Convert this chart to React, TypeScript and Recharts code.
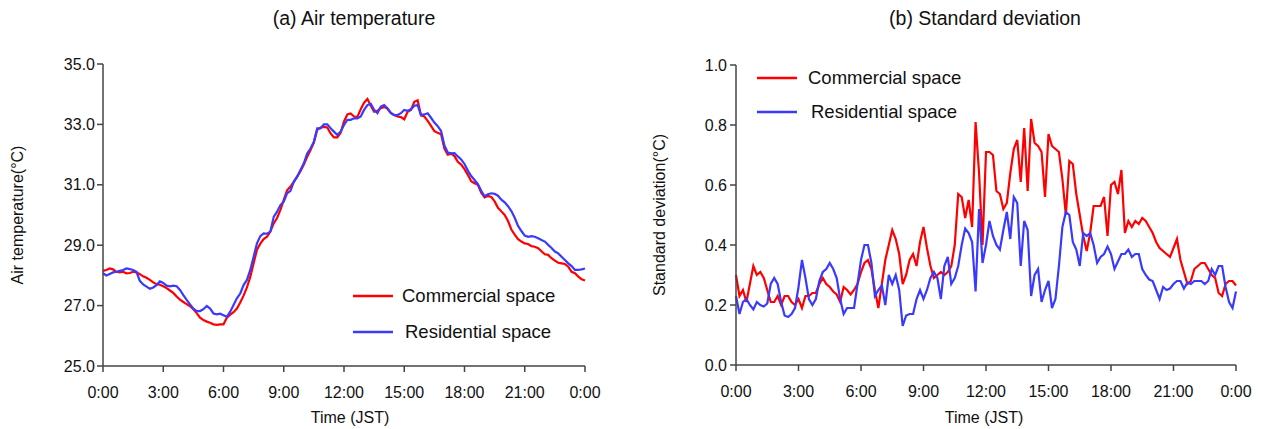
import React from "react";
import { LineChart, Line, XAxis, YAxis } from "recharts";

// 10-minute readings, 0:00 -> 0:00 next day (145 points)
const timeLabels = ["0:00", "3:00", "6:00", "9:00", "12:00", "15:00", "18:00", "21:00", "0:00"];
const timeTicks = timeLabels.map((_, k) => k * 18);

const tempTicks = [25, 27, 29, 31, 33, 35];
const sdTicks = [0, 0.2, 0.4, 0.6, 0.8, 1.0];

const seriesNames = ["Commercial space", "Residential space"];
const seriesColors = ["#ff0000", "#3a3aff"];

const tempCommercial = [
  28.15, 28.18, 28.23, 28.2, 28.12, 28.1, 28.12, 28.07, 28.08, 28.12, 28.1, 28.04,
  27.97, 27.92, 27.85, 27.77, 27.71, 27.69, 27.64, 27.58, 27.5, 27.42, 27.3, 27.2,
  27.12, 27.05, 26.98, 26.88, 26.75, 26.6, 26.52, 26.47, 26.43, 26.38, 26.36, 26.38,
  26.38, 26.6, 26.7, 26.78, 26.9, 27.1, 27.33, 27.6, 27.95, 28.4, 28.85, 29.05,
  29.2, 29.28, 29.45, 29.72, 29.9, 30.17, 30.5, 30.82, 30.94, 31.1, 31.27, 31.45,
  31.67, 31.93, 32.15, 32.4, 32.82, 32.9, 32.92, 32.9, 32.7, 32.57, 32.57, 32.72,
  33.1, 33.33, 33.36, 33.26, 33.25, 33.5, 33.72, 33.84, 33.62, 33.42, 33.45, 33.54,
  33.58, 33.52, 33.38, 33.31, 33.26, 33.24, 33.17, 33.42, 33.48, 33.75, 33.8, 33.3,
  33.26, 33.12, 32.95, 32.78, 32.72, 32.67, 32.2, 32.0, 32.03, 31.95, 31.76, 31.67,
  31.52, 31.33, 31.12, 31.05, 31.0, 30.74, 30.58, 30.63, 30.6, 30.45, 30.24, 30.12,
  30.0, 29.8, 29.52, 29.35, 29.2, 29.12, 29.06, 29.04, 28.97, 28.95, 28.9, 28.8,
  28.7, 28.68, 28.57, 28.49, 28.42, 28.4, 28.38, 28.29, 28.12, 28.07, 27.96, 27.87,
  27.83,
];

const tempResidential = [
  28.07, 28.0, 28.05, 28.1, 28.12, 28.15, 28.18, 28.23, 28.21, 28.18, 28.12, 27.82,
  27.7, 27.63, 27.56, 27.6, 27.68, 27.8, 27.75, 27.66, 27.64, 27.66, 27.64, 27.52,
  27.35, 27.19, 27.04, 26.9, 26.82, 26.82, 26.88, 26.99, 26.9, 26.74, 26.71, 26.73,
  26.68, 26.63, 26.8, 27.02, 27.24, 27.4, 27.68, 27.85, 28.18, 28.62, 29.06, 29.3,
  29.39, 29.38, 29.45, 29.94, 30.11, 30.33, 30.44, 30.72, 30.8, 31.1, 31.27, 31.49,
  31.71, 32.04, 32.2, 32.43, 32.87, 32.87, 33.0, 33.0, 32.87, 32.76, 32.65, 32.76,
  32.98, 33.15, 33.15, 33.2, 33.2, 33.26, 33.48, 33.64, 33.68, 33.48, 33.37, 33.59,
  33.64, 33.53, 33.37, 33.31, 33.31, 33.37, 33.48, 33.45, 33.5, 33.62, 33.64, 33.31,
  33.33, 33.37, 33.22, 33.06, 32.94, 32.78, 32.3, 32.07, 32.04, 32.05, 31.94, 31.84,
  31.69, 31.47, 31.29, 31.16, 31.02, 30.8, 30.62, 30.69, 30.72, 30.7, 30.64, 30.51,
  30.42, 30.29, 30.13, 29.91, 29.64, 29.47, 29.32, 29.28, 29.3, 29.28, 29.23, 29.17,
  29.12, 29.01, 28.91, 28.79, 28.73, 28.62, 28.51, 28.4, 28.31, 28.18, 28.18, 28.2,
  28.23,
];

const sdCommercial = [
  0.3, 0.23, 0.25, 0.21, 0.27, 0.33, 0.3, 0.31, 0.29, 0.25, 0.21, 0.21,
  0.23, 0.2, 0.23, 0.23, 0.21, 0.2, 0.22, 0.19, 0.23, 0.23, 0.24, 0.24,
  0.27, 0.29, 0.27, 0.26, 0.245, 0.235, 0.21, 0.26, 0.25, 0.235, 0.25, 0.27,
  0.31, 0.34, 0.35, 0.32, 0.25, 0.19, 0.27, 0.35, 0.4, 0.45, 0.42, 0.37,
  0.27, 0.3, 0.35, 0.37, 0.33, 0.41, 0.46, 0.39, 0.33, 0.29, 0.3, 0.31,
  0.3, 0.31, 0.33, 0.4, 0.57, 0.56, 0.49, 0.55, 0.46, 0.81, 0.64, 0.4,
  0.71, 0.71, 0.7, 0.58, 0.57, 0.52, 0.54, 0.64, 0.72, 0.75, 0.61, 0.79,
  0.58, 0.82, 0.74, 0.73, 0.71, 0.56, 0.77, 0.73, 0.72, 0.71, 0.62, 0.5,
  0.68, 0.67, 0.57, 0.5, 0.43, 0.38, 0.44, 0.53, 0.53, 0.53, 0.56, 0.43,
  0.6, 0.61, 0.57, 0.65, 0.44, 0.48, 0.46, 0.48, 0.47, 0.49, 0.48, 0.46,
  0.44, 0.41, 0.39, 0.38, 0.37, 0.36, 0.39, 0.42, 0.35, 0.31, 0.27, 0.28,
  0.32, 0.33, 0.34, 0.34, 0.32, 0.3, 0.29, 0.24, 0.23, 0.27, 0.28, 0.28,
  0.265,
];

const sdResidential = [
  0.23, 0.17, 0.21, 0.22, 0.2, 0.185, 0.21, 0.2, 0.195, 0.205, 0.27, 0.29,
  0.27, 0.21, 0.165, 0.16, 0.17, 0.19, 0.26, 0.35, 0.29, 0.22, 0.2, 0.22,
  0.28, 0.31, 0.32, 0.34, 0.32, 0.29, 0.22, 0.17, 0.19, 0.19, 0.19, 0.27,
  0.35, 0.4, 0.4, 0.34, 0.23, 0.25, 0.265, 0.2, 0.3, 0.27, 0.3, 0.25,
  0.13, 0.165, 0.17, 0.17, 0.22, 0.25, 0.22, 0.25, 0.29, 0.31, 0.29, 0.22,
  0.33, 0.36, 0.27, 0.29, 0.33, 0.4, 0.455, 0.44, 0.41, 0.245, 0.52, 0.34,
  0.4, 0.48, 0.43, 0.4, 0.385, 0.45, 0.51, 0.42, 0.56, 0.54, 0.33, 0.48,
  0.45, 0.23, 0.3, 0.32, 0.21, 0.25, 0.28, 0.19, 0.22, 0.33, 0.46, 0.51,
  0.5, 0.41, 0.385, 0.33, 0.44, 0.43, 0.44, 0.4, 0.34, 0.36, 0.37, 0.395,
  0.37, 0.32, 0.345, 0.37, 0.37, 0.385, 0.36, 0.37, 0.37, 0.32, 0.3, 0.285,
  0.28, 0.25, 0.22, 0.26, 0.25, 0.255, 0.27, 0.28, 0.28, 0.255, 0.275, 0.27,
  0.28, 0.28, 0.28, 0.27, 0.28, 0.32, 0.3, 0.33, 0.33, 0.26, 0.21, 0.19,
  0.245,
];

const tempData = tempCommercial.map((v, i) => ({ i, commercial: v, residential: tempResidential[i] }));
const sdData = sdCommercial.map((v, i) => ({ i, commercial: v, residential: sdResidential[i] }));

const FONT = "'Liberation Sans', Arial, Helvetica, sans-serif";
const AXIS = "#444";

function LegendBox({ x, y, rowGap, textGap }: { x: number; y: number; rowGap: number; textGap: number }) {
  return (
    <div style={{ position: "absolute", left: x, top: y - 12, fontFamily: FONT, fontSize: 18.5, color: "#111" }}>
      {seriesNames.map((name, k) => (
        <div key={name} style={{ display: "flex", alignItems: "center", height: 24, marginBottom: k === 0 ? rowGap - 24 : 0 }}>
          <svg width={40} height={4} style={{ display: "block" }}>
            <line x1={0} y1={2} x2={40} y2={2} stroke={seriesColors[k]} strokeWidth={2.4} />
          </svg>
          <span style={{ marginLeft: textGap + (k === 1 ? 3 : 0), whiteSpace: "nowrap" }}>{name}</span>
        </div>
      ))}
    </div>
  );
}

const tickStyle = { fill: "#111", fontSize: 16, fontFamily: FONT };

function Text({ x, y, size, rotate, children }: { x: number; y: number; size: number; rotate?: boolean; children: React.ReactNode }) {
  return (
    <div
      style={{
        position: "absolute",
        left: x,
        top: y,
        transform: `translate(-50%, -50%)${rotate ? " rotate(-90deg)" : ""}`,
        fontFamily: FONT,
        fontSize: size,
        color: "#111",
        whiteSpace: "nowrap",
      }}
    >
      {children}
    </div>
  );
}

export default function App() {
  return (
    <div style={{ position: "absolute", left: 0, top: 0, width: 1270, height: 429, background: "#fff", overflow: "hidden" }}>
      <Text x={354} y={18} size={19.5}>(a) Air temperature</Text>
      <Text x={985} y={18} size={19.5}>(b) Standard deviation</Text>
      <Text x={350} y={418} size={16}>Time (JST)</Text>
      <Text x={984} y={418} size={16}>Time (JST)</Text>
      <Text x={18} y={215} size={16} rotate>Air temperature(°C)</Text>
      <Text x={660} y={215} size={16} rotate>Standard deviation(°C)</Text>

      <div style={{ position: "absolute", left: 0, top: 0 }}>
        <LineChart width={620} height={429} data={tempData} margin={{ top: 64, right: 35, bottom: 33, left: 43 }}>
          <XAxis
            dataKey="i"
            type="number"
            domain={[0, 144]}
            ticks={timeTicks}
            tickFormatter={(v: number) => timeLabels[v / 18]}
            height={30}
            tickSize={6}
            tickMargin={15}
            axisLine={{ stroke: AXIS, strokeWidth: 1.5 }}
            tickLine={{ stroke: AXIS, strokeWidth: 1.5 }}
            tick={tickStyle}
            interval={0}
          />
          <YAxis
            type="number"
            domain={[25, 35]}
            ticks={tempTicks}
            tickFormatter={(v: number) => v.toFixed(1)}
            width={60}
            tickSize={6}
            axisLine={{ stroke: AXIS, strokeWidth: 1.5 }}
            tickLine={{ stroke: AXIS, strokeWidth: 1.5 }}
            tick={tickStyle}
            interval={0}
          />
          <Line dataKey="commercial" stroke={seriesColors[0]} strokeWidth={2.2} dot={false} isAnimationActive={false} />
          <Line dataKey="residential" stroke={seriesColors[1]} strokeWidth={2.2} dot={false} isAnimationActive={false} />
        </LineChart>
      </div>
      <LegendBox x={353} y={296} rowGap={36} textGap={9} />

      <div style={{ position: "absolute", left: 630, top: 0 }}>
        <LineChart width={640} height={429} data={sdData} margin={{ top: 65, right: 34, bottom: 34, left: 46 }}>
          <XAxis
            dataKey="i"
            type="number"
            domain={[0, 144]}
            ticks={timeTicks}
            tickFormatter={(v: number) => timeLabels[v / 18]}
            height={30}
            tickSize={6}
            tickMargin={15}
            axisLine={{ stroke: AXIS, strokeWidth: 1.5 }}
            tickLine={{ stroke: AXIS, strokeWidth: 1.5 }}
            tick={tickStyle}
            interval={0}
          />
          <YAxis
            type="number"
            domain={[0, 1]}
            ticks={sdTicks}
            tickFormatter={(v: number) => v.toFixed(1)}
            width={60}
            tickSize={6}
            tickMargin={3}
            axisLine={{ stroke: AXIS, strokeWidth: 1.5 }}
            tickLine={{ stroke: AXIS, strokeWidth: 1.5 }}
            tick={tickStyle}
            interval={0}
          />
          <Line dataKey="commercial" stroke={seriesColors[0]} strokeWidth={2.2} dot={false} isAnimationActive={false} />
          <Line dataKey="residential" stroke={seriesColors[1]} strokeWidth={2.2} dot={false} isAnimationActive={false} />
        </LineChart>
      </div>
      <LegendBox x={757} y={78} rowGap={34} textGap={11} />
    </div>
  );
}
